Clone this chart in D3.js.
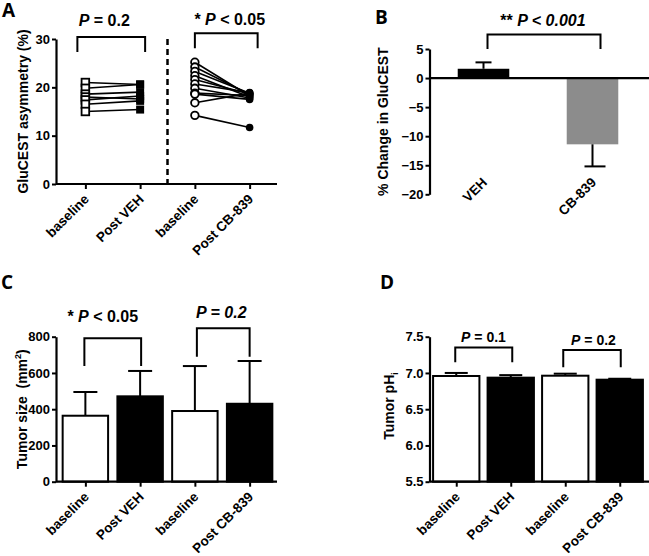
<!DOCTYPE html>
<html>
<head>
<meta charset="utf-8">
<script src="https://cdn.jsdelivr.net/npm/d3@7"></script>
<style>
  html, body { margin: 0; padding: 0; background: #fff; }
  svg { display: block; }
  text { font-family: "Liberation Sans", Arial, sans-serif; font-weight: bold; fill: #000; white-space: pre; }
  .letter { font-family: "Open Sans", "Liberation Sans", sans-serif; font-size: 19px; font-weight: bold; }
</style>
</head>
<body>
<svg id="chart" width="649" height="556"></svg>
<script>
// ---------------- DATA ----------------
const groupCategories = ["baseline", "Post VEH", "baseline", "Post CB-839"];

// Panel A: paired GluCEST asymmetry (%)
const vehBaseline = [21.0, 19.8, 18.6, 18.0, 17.4, 16.5, 15.0];
const vehPost     = [20.6, 20.6, 19.0, 17.6, 18.2, 17.2, 15.4];
const cbBaseline  = [25.2, 24.2, 23.3, 22.4, 21.6, 20.7, 19.8, 18.8, 18.6, 16.8, 14.2];
const cbPost      = [18.2, 18.5, 18.8, 18.0, 18.6, 18.9, 17.8, 18.3, 17.5, 18.8, 11.7];
const ticksA = [0, 10, 20, 30];

// Panel B: % change in GluCEST
const changeCategories = ["VEH", "CB-839"];
const changeMean = [1.6, -11.4];
const changeErr  = [1.1, 3.8];
const ticksB = [5, 0, -5, -10, -15, -20];

// Panel C: tumor size (mm^2)
const sizeMean = [364, 471, 390, 430];
const sizeErr  = [131, 140, 248, 236];
const ticksC = [0, 200, 400, 600, 800];

// Panel D: tumor pHi
const phMean = [6.958, 6.935, 6.962, 6.907];
const phErr  = [0.042, 0.035, 0.028, 0.013];
const ticksD = [5.5, 6.0, 6.5, 7.0, 7.5];

// ---------------- HELPERS ----------------
const svg = d3.select("#chart");
svg.append("rect").attr("width", 649).attr("height", 556).attr("fill", "#fff");

function yAxis(g, y, ticks, fmt) {
  g.call(d3.axisLeft(y).tickValues(ticks).tickSize(4).tickPadding(2).tickSizeOuter(0).tickFormat(fmt));
  g.select(".domain").attr("stroke-width", 2.2);
  g.selectAll(".tick line").attr("stroke-width", 2);
  g.selectAll(".tick text").style("font-size", "13px").style("font-family", "Liberation Sans, Arial, sans-serif").style("font-weight", "bold");
}
function xAxisTicks(g, xc, n, labels, dx, dy, showTicks) {
  const ax = d3.axisBottom(xc).tickValues(d3.range(n)).tickSize(showTicks ? 5 : 0).tickSizeOuter(0).tickFormat(i => labels[i]);
  g.call(ax);
  g.select(".domain").remove();
  g.selectAll(".tick line").attr("stroke-width", 2);
  g.selectAll(".tick text")
    .attr("x", 0).attr("y", 0).attr("dy", 0)
    .attr("text-anchor", "end")
    .attr("transform", `translate(${dx},${dy}) rotate(-45)`)
    .style("font-size", "13.5px").style("font-family", "Liberation Sans, Arial, sans-serif").style("font-weight", "bold");
}
function bracket(g, x1, x2, yTop, yB1, yB2) {
  g.append("path")
    .attr("d", `M${x1},${yB1}V${yTop}H${x2}V${yB2}`)
    .attr("fill", "none").attr("stroke", "#000").attr("stroke-width", 2);
}
function pText(g, x, y, parts, size) {
  const t = g.append("text").attr("x", x).attr("y", y).attr("text-anchor", "middle").style("font-size", size + "px");
  parts.forEach(p => t.append("tspan").text(p[0]).style("font-style", p[1] ? "italic" : "normal"));
}
function yTitle(g, x, yc, build) {
  const t = g.append("text").attr("transform", `translate(${x},${yc}) rotate(-90)`).attr("text-anchor", "middle").style("font-size", "14px");
  build(t);
}

// ---------------- PANEL A ----------------
{
  const g = svg.append("g");
  const axX = 56, top = 39, bottom = 184, right = 277;
  const y = d3.scaleLinear().domain([0, 30]).range([bottom, top]);
  const xb = d3.scaleBand().domain(d3.range(4)).range([58, 277]).paddingInner(0.16).paddingOuter(0.08);
  const xc = i => xb(i) + xb.bandwidth() / 2;
  const xp = d3.scalePoint().domain(d3.range(4)).range([xc(0), xc(3)]);

  // x axis line
  g.append("line").attr("x1", axX).attr("x2", right).attr("y1", bottom).attr("y2", bottom).attr("stroke", "#000").attr("stroke-width", 2.2);
  xAxisTicks(g.append("g").attr("transform", `translate(0,${bottom})`), xp, 4, groupCategories, 4, 16, true);
  yAxis(g.append("g").attr("transform", `translate(${axX},0)`), y, ticksA, d3.format("d"));

  // dashed divider
  g.append("line").attr("x1", (xp(1) + xp(2)) / 2).attr("x2", (xp(1) + xp(2)) / 2)
    .attr("y1", y(30)).attr("y2", y(0)).attr("stroke", "#000").attr("stroke-width", 2.5).attr("stroke-dasharray", "6,4");

  // paired lines
  const pairs = [[vehBaseline, vehPost, 0, 1], [cbBaseline, cbPost, 2, 3]];
  pairs.forEach(([a, b, i0, i1]) => {
    g.selectAll(null).data(a).enter().append("line")
      .attr("x1", xp(i0)).attr("x2", xp(i1))
      .attr("y1", d => y(d)).attr("y2", (d, k) => y(b[k]))
      .attr("stroke", "#000").attr("stroke-width", 1.6);
  });
  // markers
  g.selectAll(null).data(vehBaseline).enter().append("rect")
    .attr("x", xp(0) - 3.8).attr("y", d => y(d) - 3.8).attr("width", 7.6).attr("height", 7.6)
    .attr("fill", "#fff").attr("stroke", "#000").attr("stroke-width", 1.8);
  g.selectAll(null).data(vehPost).enter().append("rect")
    .attr("x", xp(1) - 4).attr("y", d => y(d) - 4).attr("width", 8).attr("height", 8)
    .attr("fill", "#000");
  g.selectAll(null).data(cbBaseline).enter().append("circle")
    .attr("cx", xp(2)).attr("cy", d => y(d)).attr("r", 3.8)
    .attr("fill", "#fff").attr("stroke", "#000").attr("stroke-width", 1.8);
  g.selectAll(null).data(cbPost).enter().append("circle")
    .attr("cx", xp(3)).attr("cy", d => y(d)).attr("r", 3.8).attr("fill", "#000");

  // brackets
  bracket(g, xp(0) - 8, xp(1) + 5, y(30.4), y(27.3), y(27.3));
  bracket(g, xp(2), xp(3) + 8, y(31.2), y(28.1), y(28.1));
  pText(g, (xp(0) - 8 + xp(1) + 5) / 2 - 7, y(30.4) - 11.5, [["P", true], [" = 0.2", false]], 16);
  pText(g, (xp(2) + xp(3) + 8) / 2 + 3.5, y(31.2) - 8.5, [["* ", false], ["P", true], [" < 0.05", false]], 16);

  yTitle(g, 27.5, (top + bottom) / 2, t => t.text("GluCEST asymmetry (%)"));
  g.append("text").attr("class", "letter").attr("x", 2).attr("y", 17).text("A");
}

// ---------------- PANEL B ----------------
{
  const g = svg.append("g");
  const axX = 429.5, top = 49, bottom = 194.3;
  const y = d3.scaleLinear().domain([-20, 5]).range([bottom, top]);
  const x = d3.scaleBand().domain(d3.range(2)).range([429, 647]).paddingInner(0.527).paddingOuter(0.2635);
  const xc = i => x(i) + x.bandwidth() / 2;
  const colors = ["#000", "#8c8c8c"];

  g.selectAll(null).data(changeMean).enter().append("rect")
    .attr("x", (d, i) => x(i)).attr("width", x.bandwidth())
    .attr("y", d => y(Math.max(0, d))).attr("height", d => Math.abs(y(d) - y(0)))
    .attr("fill", (d, i) => colors[i]);
  // error bars (away from zero)
  changeMean.forEach((m, i) => {
    const e = m >= 0 ? m + changeErr[i] : m - changeErr[i];
    g.append("line").attr("x1", xc(i)).attr("x2", xc(i)).attr("y1", y(m)).attr("y2", y(e)).attr("stroke", "#000").attr("stroke-width", 2);
    g.append("line").attr("x1", xc(i) - 8).attr("x2", xc(i) + 8 + (i ? 5 : 0)).attr("y1", y(e)).attr("y2", y(e)).attr("stroke", "#000").attr("stroke-width", 2);
  });

  g.append("line").attr("x1", axX).attr("x2", 649).attr("y1", y(0)).attr("y2", y(0)).attr("stroke", "#000").attr("stroke-width", 2.2);
  yAxis(g.append("g").attr("transform", `translate(${axX},0)`), y, ticksB, d3.format("d"));
  const xp = d3.scalePoint().domain(d3.range(2)).range([xc(0), xc(1)]);
  xAxisTicks(g.append("g").attr("transform", `translate(0,${bottom - 11})`), xp, 2, changeCategories, 4, 0, false);

  bracket(g, xc(0) + 4, xc(1) + 8, y(7.5), y(5.0), y(5.0));
  pText(g, (xc(0) + 4 + xc(1) + 8) / 2 - 1, y(7.5) - 8, [["** ", false], ["P < 0.001", true]], 16);

  yTitle(g, 388, (top + bottom) / 2, t => t.text("% Change in GluCEST"));
  g.append("text").attr("class", "letter").attr("x", 375).attr("y", 23.5).text("B");
}

// ---------------- PANEL C ----------------
{
  const g = svg.append("g");
  const axX = 56, top = 336.7, bottom = 481.7, right = 277;
  const y = d3.scaleLinear().domain([0, 800]).range([bottom, top]);
  const x = d3.scaleBand().domain(d3.range(4)).range([58, 277]).paddingInner(0.17).paddingOuter(0.085);
  const xc = i => x(i) + x.bandwidth() / 2;
  const fills = ["#fff", "#000", "#fff", "#000"];

  sizeMean.forEach((m, i) => {
    const e = m + sizeErr[i];
    g.append("line").attr("x1", xc(i)).attr("x2", xc(i)).attr("y1", y(m)).attr("y2", y(e)).attr("stroke", "#000").attr("stroke-width", 2);
    g.append("line").attr("x1", xc(i) - 12).attr("x2", xc(i) + 12).attr("y1", y(e)).attr("y2", y(e)).attr("stroke", "#000").attr("stroke-width", 2);
  });
  g.selectAll(null).data(sizeMean).enter().append("rect")
    .attr("x", (d, i) => x(i)).attr("width", x.bandwidth())
    .attr("y", d => y(d)).attr("height", d => y(0) - y(d))
    .attr("fill", (d, i) => fills[i]).attr("stroke", "#000").attr("stroke-width", 2);

  g.append("line").attr("x1", axX).attr("x2", right).attr("y1", bottom).attr("y2", bottom).attr("stroke", "#000").attr("stroke-width", 2.2);
  const xp = d3.scalePoint().domain(d3.range(4)).range([xc(0), xc(3)]);
  xAxisTicks(g.append("g").attr("transform", `translate(0,${bottom})`), xp, 4, groupCategories, 4, 16, true);
  yAxis(g.append("g").attr("transform", `translate(${axX},0)`), y, ticksC, d3.format("d"));

  bracket(g, xc(0) - 1, xc(1) + 1, y(791), y(638), y(638));
  bracket(g, xc(2) + 2, xc(3), y(846), y(690), y(690));
  pText(g, (xc(0) + xc(1)) / 2 - 10, y(791) - 16, [["* ", false], ["P", true], [" < 0.05", false]], 16);
  pText(g, (xc(2) + 2 + xc(3)) / 2 - 2, y(846) - 10, [["P = 0.2", true]], 16);

  yTitle(g, 27, (top + bottom) / 2, t => {
    t.append("tspan").text("Tumor size  (mm");
    t.append("tspan").text("2").attr("dy", -6).style("font-size", "9px");
    t.append("tspan").text(")").attr("dy", 6);
  });
  g.append("text").attr("class", "letter").attr("x", 1).attr("y", 289).text("C");
}

// ---------------- PANEL D ----------------
{
  const g = svg.append("g");
  const axX = 429.5, top = 336.7, bottom = 481.7;
  const y = d3.scaleLinear().domain([5.5, 7.5]).range([bottom, top]);
  const x = d3.scaleBand().domain(d3.range(4)).range([429, 647]).paddingInner(0.15).paddingOuter(0.075);
  const xc = i => x(i) + x.bandwidth() / 2;
  const fills = ["#fff", "#000", "#fff", "#000"];

  phMean.forEach((m, i) => {
    const e = m + phErr[i];
    g.append("line").attr("x1", xc(i)).attr("x2", xc(i)).attr("y1", y(m)).attr("y2", y(e)).attr("stroke", "#000").attr("stroke-width", 2);
    g.append("line").attr("x1", xc(i) - 11.5).attr("x2", xc(i) + 11.5).attr("y1", y(e)).attr("y2", y(e)).attr("stroke", "#000").attr("stroke-width", 2);
  });
  g.selectAll(null).data(phMean).enter().append("rect")
    .attr("x", (d, i) => x(i)).attr("width", x.bandwidth())
    .attr("y", d => y(d)).attr("height", d => y(5.5) - y(d))
    .attr("fill", (d, i) => fills[i]).attr("stroke", "#000").attr("stroke-width", 2);

  g.append("line").attr("x1", axX).attr("x2", 649).attr("y1", bottom).attr("y2", bottom).attr("stroke", "#000").attr("stroke-width", 2.2);
  const xp = d3.scalePoint().domain(d3.range(4)).range([xc(0), xc(3)]);
  xAxisTicks(g.append("g").attr("transform", `translate(0,${bottom})`), xp, 4, groupCategories, 4, 16, true);
  yAxis(g.append("g").attr("transform", `translate(${axX},0)`), y, ticksD, d3.format(".1f"));

  bracket(g, xc(0) - 1, xc(1) + 1.5, y(7.35), y(7.147), y(7.147));
  bracket(g, xc(2) - 2, xc(3) + 1, y(7.317), y(7.078), y(7.078));
  pText(g, (xc(0) + xc(1)) / 2, y(7.35) - 6, [["P", true], [" = 0.1", false]], 14);
  pText(g, (xc(2) + xc(3)) / 2 + 1, y(7.317) - 5, [["P", true], [" = 0.2", false]], 14);

  yTitle(g, 394, 406, t => {
    t.append("tspan").text("Tumor pH");
    t.append("tspan").text("i").attr("dy", 4).style("font-size", "9px");
  });
  g.append("text").attr("class", "letter").attr("x", 380).attr("y", 289).text("D");
}
</script>
</body>
</html>
